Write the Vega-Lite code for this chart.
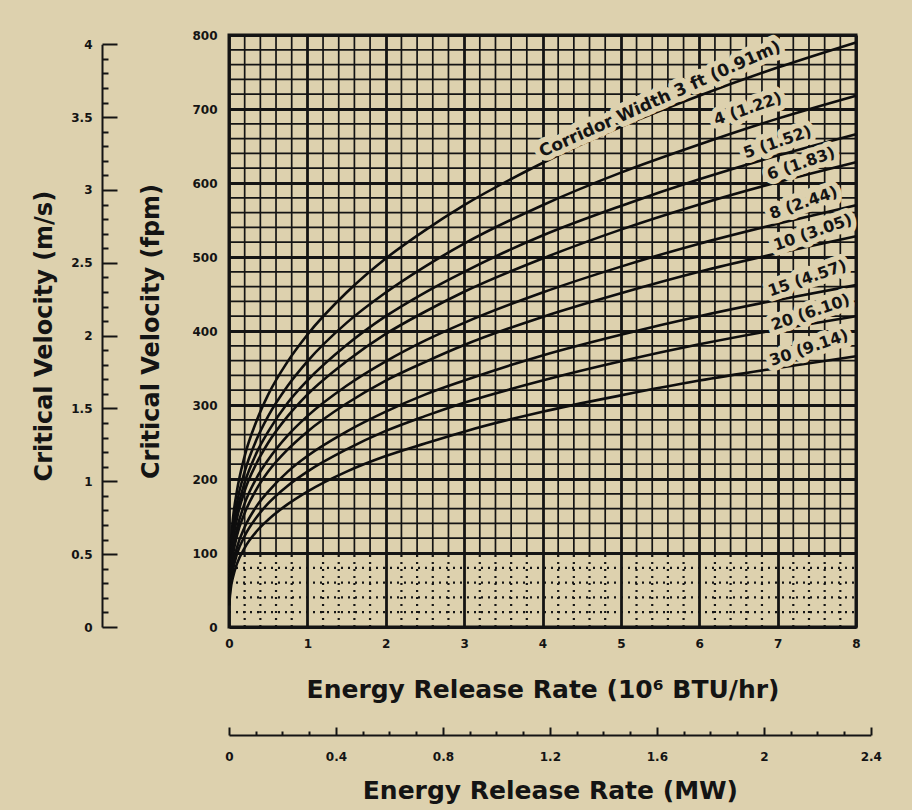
{
  "$schema": "https://vega.github.io/schema/vega-lite/v6.json",
  "autosize": {"type": "none"},
  "width": 627,
  "height": 592,
  "padding": {"left": 229, "top": 35, "right": 56, "bottom": 183},
  "config": {
    "background": "#DDD1AE",
    "view": {"stroke": "#141414", "strokeWidth": 3},
    "axis": {
      "labelFont": "DejaVu Sans", "labelFontWeight": "bold", "labelFontSize": 12, "labelColor": "#141414",
      "titleFont": "DejaVu Sans", "titleFontWeight": "bold", "titleFontSize": 24, "titleColor": "#141414",
      "labelFlush": false, "labelOverlap": false
    }
  },
  "datasets": {
    "vminor": [{"x":0.2},{"x":0.4},{"x":0.6},{"x":0.8},{"x":1.2},{"x":1.4},{"x":1.6},{"x":1.8},{"x":2.2},{"x":2.4},{"x":2.6},{"x":2.8},{"x":3.2},{"x":3.4},{"x":3.6},{"x":3.8},{"x":4.2},{"x":4.4},{"x":4.6},{"x":4.8},{"x":5.2},{"x":5.4},{"x":5.6},{"x":5.8},{"x":6.2},{"x":6.4},{"x":6.6},{"x":6.8},{"x":7.2},{"x":7.4},{"x":7.6},{"x":7.8}],
    "hminor": [{"y":20},{"y":40},{"y":60},{"y":80},{"y":120},{"y":140},{"y":160},{"y":180},{"y":220},{"y":240},{"y":260},{"y":280},{"y":320},{"y":340},{"y":360},{"y":380},{"y":420},{"y":440},{"y":460},{"y":480},{"y":520},{"y":540},{"y":560},{"y":580},{"y":620},{"y":640},{"y":660},{"y":680},{"y":720},{"y":740},{"y":760},{"y":780}],
    "curves": [
      {"w":"3","E":0.004,"V":63},{"w":"3","E":0.01,"V":85},{"w":"3","E":0.02,"V":107},{"w":"3","E":0.05,"V":146},{"w":"3","E":0.1,"V":183},{"w":"3","E":0.2,"V":231},{"w":"3","E":0.35,"V":278},{"w":"3","E":0.5,"V":314},{"w":"3","E":0.75,"V":359},{"w":"3","E":1,"V":395},{"w":"3","E":1.5,"V":452},{"w":"3","E":2,"V":498},{"w":"3","E":2.5,"V":536},{"w":"3","E":3,"V":570},{"w":"3","E":4,"V":627},{"w":"3","E":5,"V":676},{"w":"3","E":6,"V":718},{"w":"3","E":7,"V":756},{"w":"3","E":8,"V":790},
      {"w":"4","E":0.004,"V":57},{"w":"4","E":0.01,"V":77},{"w":"4","E":0.02,"V":97},{"w":"4","E":0.05,"V":132},{"w":"4","E":0.1,"V":167},{"w":"4","E":0.2,"V":210},{"w":"4","E":0.35,"V":253},{"w":"4","E":0.5,"V":285},{"w":"4","E":0.75,"V":326},{"w":"4","E":1,"V":359},{"w":"4","E":1.5,"V":411},{"w":"4","E":2,"V":452},{"w":"4","E":2.5,"V":487},{"w":"4","E":3,"V":518},{"w":"4","E":4,"V":570},{"w":"4","E":5,"V":614},{"w":"4","E":6,"V":652},{"w":"4","E":7,"V":687},{"w":"4","E":8,"V":718},
      {"w":"5","E":0.004,"V":53},{"w":"5","E":0.01,"V":72},{"w":"5","E":0.02,"V":90},{"w":"5","E":0.05,"V":123},{"w":"5","E":0.1,"V":155},{"w":"5","E":0.2,"V":195},{"w":"5","E":0.35,"V":235},{"w":"5","E":0.5,"V":264},{"w":"5","E":0.75,"V":303},{"w":"5","E":1,"V":333},{"w":"5","E":1.5,"V":381},{"w":"5","E":2,"V":420},{"w":"5","E":2.5,"V":452},{"w":"5","E":3,"V":480},{"w":"5","E":4,"V":529},{"w":"5","E":5,"V":569},{"w":"5","E":6,"V":605},{"w":"5","E":7,"V":637},{"w":"5","E":8,"V":666},
      {"w":"6","E":0.004,"V":50},{"w":"6","E":0.01,"V":68},{"w":"6","E":0.02,"V":85},{"w":"6","E":0.05,"V":116},{"w":"6","E":0.1,"V":146},{"w":"6","E":0.2,"V":184},{"w":"6","E":0.35,"V":221},{"w":"6","E":0.5,"V":249},{"w":"6","E":0.75,"V":285},{"w":"6","E":1,"V":314},{"w":"6","E":1.5,"V":359},{"w":"6","E":2,"V":396},{"w":"6","E":2.5,"V":426},{"w":"6","E":3,"V":453},{"w":"6","E":4,"V":498},{"w":"6","E":5,"V":537},{"w":"6","E":6,"V":571},{"w":"6","E":7,"V":601},{"w":"6","E":8,"V":628},
      {"w":"8","E":0.004,"V":45},{"w":"8","E":0.01,"V":61},{"w":"8","E":0.02,"V":77},{"w":"8","E":0.05,"V":105},{"w":"8","E":0.1,"V":132},{"w":"8","E":0.2,"V":167},{"w":"8","E":0.35,"V":201},{"w":"8","E":0.5,"V":226},{"w":"8","E":0.75,"V":259},{"w":"8","E":1,"V":285},{"w":"8","E":1.5,"V":326},{"w":"8","E":2,"V":359},{"w":"8","E":2.5,"V":387},{"w":"8","E":3,"V":411},{"w":"8","E":4,"V":452},{"w":"8","E":5,"V":487},{"w":"8","E":6,"V":518},{"w":"8","E":7,"V":545},{"w":"8","E":8,"V":570},
      {"w":"10","E":0.004,"V":42},{"w":"10","E":0.01,"V":57},{"w":"10","E":0.02,"V":72},{"w":"10","E":0.05,"V":97},{"w":"10","E":0.1,"V":123},{"w":"10","E":0.2,"V":154},{"w":"10","E":0.35,"V":186},{"w":"10","E":0.5,"V":210},{"w":"10","E":0.75,"V":240},{"w":"10","E":1,"V":264},{"w":"10","E":1.5,"V":302},{"w":"10","E":2,"V":333},{"w":"10","E":2.5,"V":358},{"w":"10","E":3,"V":381},{"w":"10","E":4,"V":419},{"w":"10","E":5,"V":451},{"w":"10","E":6,"V":480},{"w":"10","E":7,"V":505},{"w":"10","E":8,"V":528},
      {"w":"15","E":0.004,"V":37},{"w":"15","E":0.01,"V":50},{"w":"15","E":0.02,"V":63},{"w":"15","E":0.05,"V":85},{"w":"15","E":0.1,"V":107},{"w":"15","E":0.2,"V":135},{"w":"15","E":0.35,"V":163},{"w":"15","E":0.5,"V":183},{"w":"15","E":0.75,"V":210},{"w":"15","E":1,"V":231},{"w":"15","E":1.5,"V":264},{"w":"15","E":2,"V":291},{"w":"15","E":2.5,"V":314},{"w":"15","E":3,"V":333},{"w":"15","E":4,"V":367},{"w":"15","E":5,"V":395},{"w":"15","E":6,"V":420},{"w":"15","E":7,"V":442},{"w":"15","E":8,"V":462},
      {"w":"20","E":0.004,"V":33},{"w":"20","E":0.01,"V":45},{"w":"20","E":0.02,"V":57},{"w":"20","E":0.05,"V":77},{"w":"20","E":0.1,"V":98},{"w":"20","E":0.2,"V":123},{"w":"20","E":0.35,"V":148},{"w":"20","E":0.5,"V":167},{"w":"20","E":0.75,"V":191},{"w":"20","E":1,"V":210},{"w":"20","E":1.5,"V":240},{"w":"20","E":2,"V":265},{"w":"20","E":2.5,"V":285},{"w":"20","E":3,"V":303},{"w":"20","E":4,"V":333},{"w":"20","E":5,"V":359},{"w":"20","E":6,"V":382},{"w":"20","E":7,"V":402},{"w":"20","E":8,"V":420},
      {"w":"30","E":0.004,"V":29},{"w":"30","E":0.01,"V":39},{"w":"30","E":0.02,"V":50},{"w":"30","E":0.05,"V":67},{"w":"30","E":0.1,"V":85},{"w":"30","E":0.2,"V":107},{"w":"30","E":0.35,"V":129},{"w":"30","E":0.5,"V":145},{"w":"30","E":0.75,"V":166},{"w":"30","E":1,"V":183},{"w":"30","E":1.5,"V":210},{"w":"30","E":2,"V":231},{"w":"30","E":2.5,"V":248},{"w":"30","E":3,"V":264},{"w":"30","E":4,"V":291},{"w":"30","E":5,"V":313},{"w":"30","E":6,"V":333},{"w":"30","E":7,"V":350},{"w":"30","E":8,"V":366}
    ],
    "labels": [
      {"t":"4 (1.22)","E":6.62,"V":700},
      {"t":"5 (1.52)","E":7.0,"V":655},
      {"t":"6 (1.83)","E":7.3,"V":626},
      {"t":"8 (2.44)","E":7.33,"V":573},
      {"t":"10 (3.05)","E":7.45,"V":533},
      {"t":"15 (4.57)","E":7.38,"V":471},
      {"t":"20 (6.10)","E":7.42,"V":425},
      {"t":"30 (9.14)","E":7.4,"V":377}
    ],
    "corr": [{"t":"Corridor Width  3 ft (0.91m)","E":5.5,"V":713}],
    "ms": [{"v":0},{"v":4}],
    "mw": [{"m":0},{"m":2.4}]
  },
  "layer": [
    {
      "layer": [
        {
          "data": {"name": "vminor"},
          "mark": {"type": "rule", "color": "#141414", "strokeWidth": 1.7},
          "encoding": {
            "x": {"field": "x", "type": "quantitative", "scale": {"domain": [0, 8], "nice": false},
                  "axis": {"values": [0,1,2,3,4,5,6,7,8], "format": "d", "grid": true, "gridColor": "#141414", "gridWidth": 2.8, "gridOpacity": 1, "ticks": false, "domain": false, "labelPadding": 11, "title": "Energy Release Rate  (10⁶ BTU/hr)", "titlePadding": 28, "titleFontSize": 25}},
            "y": {"datum": 100, "type": "quantitative", "scale": {"domain": [0, 800], "nice": false},
                  "axis": {"values": [0,100,200,300,400,500,600,700,800], "format": "d", "grid": true, "gridColor": "#141414", "gridWidth": 2.8, "gridOpacity": 1, "ticks": false, "domain": false, "labelPadding": 12, "title": "Critical Velocity  (fpm)", "titlePadding": 28}},
            "y2": {"datum": 800}
          }
        },
        {
          "data": {"name": "vminor"},
          "mark": {"type": "rule", "color": "#141414", "strokeWidth": 2.2, "strokeDash": [2, 5]},
          "encoding": {
            "x": {"field": "x", "type": "quantitative"},
            "y": {"datum": 0, "type": "quantitative"},
            "y2": {"datum": 100}
          }
        },
        {
          "data": {"name": "hminor"},
          "transform": [{"filter": "datum.y > 100"}],
          "mark": {"type": "rule", "color": "#141414", "strokeWidth": 1.7},
          "encoding": {
            "y": {"field": "y", "type": "quantitative"},
            "x": {"datum": 0, "type": "quantitative"},
            "x2": {"datum": 8}
          }
        },
        {
          "data": {"name": "hminor"},
          "transform": [{"filter": "datum.y < 100"}],
          "mark": {"type": "rule", "color": "#141414", "strokeWidth": 2.2, "strokeDash": [2, 5]},
          "encoding": {
            "y": {"field": "y", "type": "quantitative"},
            "x": {"datum": 0, "type": "quantitative"},
            "x2": {"datum": 8}
          }
        },
        {
          "data": {"name": "curves"},
          "mark": {"type": "line", "color": "#0e0e0e", "strokeWidth": 2.6, "interpolate": "monotone"},
          "encoding": {
            "x": {"field": "E", "type": "quantitative"},
            "y": {"field": "V", "type": "quantitative"},
            "detail": {"field": "w"}
          }
        },
        {
          "data": {"name": "labels"},
          "mark": {"type": "text", "font": "DejaVu Sans", "fontWeight": "bold", "fontSize": 16, "angle": -19, "align": "center", "baseline": "middle", "stroke": "#DDD1AE", "strokeWidth": 11, "strokeJoin": "round", "fill": "#DDD1AE"},
          "encoding": {
            "x": {"field": "E", "type": "quantitative"},
            "y": {"field": "V", "type": "quantitative"},
            "text": {"field": "t"}
          }
        },
        {
          "data": {"name": "labels"},
          "mark": {"type": "text", "font": "DejaVu Sans", "fontWeight": "bold", "fontSize": 16, "angle": -19, "align": "center", "baseline": "middle", "color": "#141414"},
          "encoding": {
            "x": {"field": "E", "type": "quantitative"},
            "y": {"field": "V", "type": "quantitative"},
            "text": {"field": "t"}
          }
        },
        {
          "data": {"name": "corr"},
          "mark": {"type": "text", "font": "DejaVu Sans", "fontWeight": "bold", "fontSize": 17, "angle": -24, "align": "center", "baseline": "middle", "stroke": "#DDD1AE", "strokeWidth": 11, "strokeJoin": "round", "fill": "#DDD1AE"},
          "encoding": {
            "x": {"field": "E", "type": "quantitative"},
            "y": {"field": "V", "type": "quantitative"},
            "text": {"field": "t"}
          }
        },
        {
          "data": {"name": "corr"},
          "mark": {"type": "text", "font": "DejaVu Sans", "fontWeight": "bold", "fontSize": 17, "angle": -24, "align": "center", "baseline": "middle", "color": "#141414"},
          "encoding": {
            "x": {"field": "E", "type": "quantitative"},
            "y": {"field": "V", "type": "quantitative"},
            "text": {"field": "t"}
          }
        }
      ]
    },
    {
      "data": {"name": "ms"},
      "mark": {"type": "rule", "opacity": 0},
      "encoding": {
        "y": {"field": "v", "type": "quantitative", "scale": {"domain": [0, 4], "range": [592, 9.3], "nice": false},
              "axis": {"orient": "left", "offset": 127, "values": [0,0.1,0.2,0.3,0.4,0.5,0.6,0.7,0.8,0.9,1,1.1,1.2,1.3,1.4,1.5,1.6,1.7,1.8,1.9,2,2.1,2.2,2.3,2.4,2.5,2.6,2.7,2.8,2.9,3,3.1,3.2,3.3,3.4,3.5,3.6,3.7,3.8,3.9,4],
                       "grid": false, "domain": true, "domainColor": "#141414", "domainWidth": 2, "ticks": true, "tickColor": "#141414", "tickWidth": 2,
                       "tickSize": {"condition": {"test": "abs(datum.value*2-round(datum.value*2))<0.001", "value": -15}, "value": -6},
                       "labelExpr": "abs(datum.value*2-round(datum.value*2))<0.001 ? format(datum.value, '~g') : ''",
                       "labelPadding": 25, "title": "Critical Velocity  (m/s)", "titlePadding": 14}}
      }
    },
    {
      "data": {"name": "mw"},
      "mark": {"type": "rule", "opacity": 0},
      "encoding": {
        "x": {"field": "m", "type": "quantitative", "scale": {"domain": [0, 2.4], "range": [0, 641.8], "nice": false},
              "axis": {"orient": "bottom", "offset": 108, "values": [0,0.1,0.2,0.3,0.4,0.5,0.6,0.7,0.8,0.9,1,1.1,1.2,1.3,1.4,1.5,1.6,1.7,1.8,1.9,2,2.1,2.2,2.3,2.4],
                       "grid": false, "domain": true, "domainColor": "#141414", "domainWidth": 2, "ticks": true, "tickColor": "#141414", "tickWidth": 2,
                       "tickSize": {"condition": {"test": "abs(datum.value/0.4-round(datum.value/0.4))<0.001", "value": -8}, "value": -4},
                       "labelExpr": "abs(datum.value/0.4-round(datum.value/0.4))<0.001 ? format(datum.value, '~g') : ''",
                       "labelPadding": 24, "title": "Energy Release Rate  (MW)", "titlePadding": 12, "titleFontSize": 25}}
      }
    }
  ],
  "resolve": {"scale": {"x": "independent", "y": "independent"}}
}
